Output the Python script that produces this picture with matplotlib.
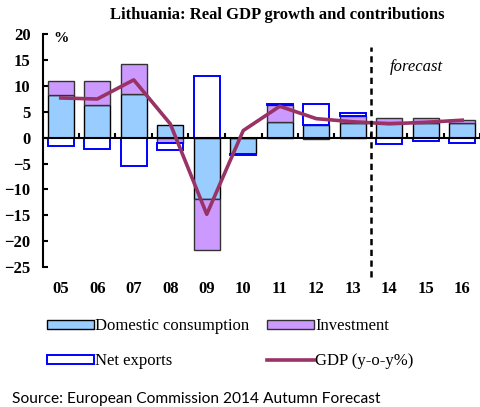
import matplotlib
matplotlib.use("Agg")
import matplotlib.pyplot as plt
import numpy as np

years = ["05", "06", "07", "08", "09", "10", "11", "12", "13", "14", "15", "16"]
domestic = [8.3, 6.4, 8.4, 2.4, -11.8, -3.1, 3.0, 2.4, 2.9, 3.0, 2.9, 2.85]
investment = [2.7, 4.6, 5.8, -1.1, -10.0, 0.0, 3.4, -0.3, 1.4, 0.8, 0.9, 0.6]
net_exports = [-1.5, -2.1, -5.4, -1.3, 11.9, -0.3, 0.1, 4.2, 0.4, -1.2, -0.7, -1.0]
gdp = [7.7, 7.5, 11.2, 2.7, -14.8, 1.4, 6.1, 3.7, 3.1, 2.7, 3.0, 3.4]

SERIF = "Liberation Serif"

fig = plt.figure(figsize=(4.81, 4.07), dpi=100)
ax = fig.add_axes([42.5 / 481, 140 / 407, 438 / 481, 232.6 / 407])

x = np.arange(len(years))
w = 0.7
pos_base = np.zeros(len(years))
neg_base = np.zeros(len(years))

def stack(vals):
    vals = np.array(vals, dtype=float)
    bottoms = np.where(vals >= 0, pos_base, neg_base)
    pos_base[:] = pos_base + np.where(vals >= 0, vals, 0)
    neg_base[:] = neg_base + np.where(vals < 0, vals, 0)
    return vals, bottoms

v, b = stack(domestic)
b1 = ax.bar(x, v, w, bottom=b, color="#99CCFF", edgecolor="black", linewidth=1.0,
            label="Domestic consumption", zorder=2)
v, b = stack(investment)
b2 = ax.bar(x, v, w, bottom=b, color="#CC99FF", edgecolor="#333333", linewidth=1.0,
            label="Investment", zorder=2)
v, b = stack(net_exports)
b3 = ax.bar(x, v, w, bottom=b, color="white", edgecolor="#0000FF", linewidth=1.4,
            label="Net exports", zorder=2)
l1, = ax.plot(x, gdp, color="#993366", linewidth=2.6, label="GDP (y-o-y%)", zorder=4)

ax.set_xlim(-0.5, len(years) - 0.5)
ax.set_ylim(-25, 20)
ax.set_yticks(np.arange(-25, 21, 5))

for s in ["top", "right"]:
    ax.spines[s].set_visible(False)
ax.spines["bottom"].set_position(("data", 0))
ax.spines["bottom"].set_linewidth(1.5)
ax.spines["left"].set_linewidth(1.5)
ax.spines["bottom"].set_zorder(3)

ax.set_xticks(x)
ax.set_xticklabels(years)
ax.set_xticks(np.arange(0.5, len(years), 1.0), minor=True)
ax.tick_params(axis="x", which="major", length=0, pad=103)
ax.tick_params(axis="x", which="minor", direction="in", length=3.5, width=1.5)
ax.tick_params(axis="y", direction="in", length=3.5, width=1.5, pad=8.5)
for lab in ax.get_xticklabels() + ax.get_yticklabels():
    lab.set_fontfamily(SERIF)
    lab.set_fontweight("bold")
    lab.set_fontsize(12)

ax.vlines(8.5, -27, 17.5, colors="black", linestyles=(0, (2.5, 1.8)),
          linewidth=1.8, clip_on=False, zorder=5)

ax.text(0.0, 19.3, "%", family=SERIF, weight="bold", fontsize=11,
        ha="center", va="center")
ax.text(9.73, 13.6, "forecast", family=SERIF, style="italic", fontsize=12,
        ha="center", va="center")

fig.text(0.576, 0.963, "Lithuania: Real GDP growth and contributions",
         family=SERIF, weight="bold", fontsize=12, ha="center", va="center")

leg = fig.legend([b1, b3, b2, l1],
                 ["Domestic consumption", "Net exports", "Investment", "GDP (y-o-y%)"],
                 ncol=2, loc="upper left", bbox_to_anchor=(47 / 481, 0.218),
                 frameon=False, borderpad=0, borderaxespad=0,
                 handlelength=2.8, handleheight=0.4, handletextpad=0.1,
                 columnspacing=1.05, labelspacing=1.15,
                 prop={"family": SERIF, "size": 12})

fig.text(12 / 481, 0.02, "Source: European Commission 2014 Autumn Forecast",
         family="Lato", fontsize=11.2, ha="left", va="center")

fig.savefig("out.png", dpi=100)
